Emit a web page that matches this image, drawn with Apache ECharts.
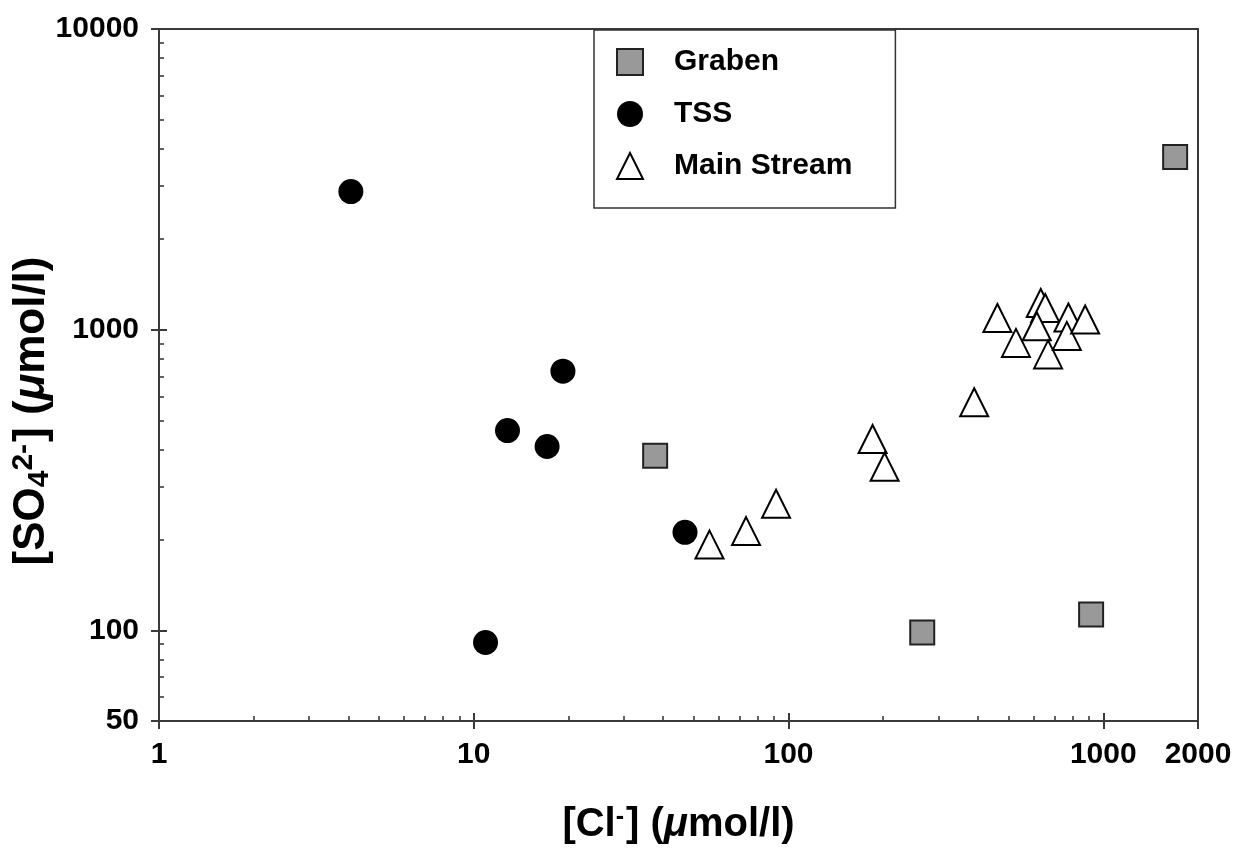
<!DOCTYPE html>
<html>
<head>
<meta charset="utf-8">
<script src="https://cdn.jsdelivr.net/npm/echarts@6/dist/echarts.min.js"></script>
<style>
  html, body { margin: 0; padding: 0; background: #ffffff; }
  #chart { width: 1247px; height: 851px; }
</style>
</head>
<body>
<div id="chart"></div>
<script>
// Chloride (x) and sulfate (y) concentrations, µmol/l
const grabenCl  = [37.7, 266, 915, 1692];
const grabenSO4 = [381, 98.5, 113, 3750];

const tssCl  = [4.07, 19.2, 12.8, 17.1, 46.9, 10.9];
const tssSO4 = [2880, 728, 462, 409, 212, 91.2];

const mainCl  = [56.1, 73.3, 91.3, 185, 202, 389, 461, 528, 633, 654, 615, 668, 775, 766, 876];
const mainSO4 = [193, 214, 264, 433, 350, 574, 1094, 904, 1227, 1181, 1027, 828, 1098, 954, 1081];

// Axis ticks and labels
const xMajor = [1, 10, 100, 1000, 2000];
const xMinor = [2, 3, 4, 5, 6, 7, 8, 9, 20, 30, 40, 50, 60, 70, 80, 90, 200, 300, 400, 500, 600, 700, 800, 900];
const yMajor = [50, 100, 1000, 10000];
const yMinor = [60, 70, 80, 90, 200, 300, 400, 500, 600, 700, 800, 900, 2000, 3000, 4000, 5000, 6000, 7000, 8000, 9000];

const FONT = '"Liberation Sans", Arial, Helvetica, sans-serif';
const AXIS_COLOR = '#3a3a3a';

const zip = (xs, ys) => xs.map((x, i) => [x, ys[i]]);
const fmt = v => String(Math.round(v));

const chart = echarts.init(document.getElementById('chart'), null, { renderer: 'canvas' });

const baseLog = (min, max) => ({
  type: 'log', logBase: 10, min: min, max: max,
  splitLine: { show: false }, minorTick: { show: false }
});

const option = {
  backgroundColor: '#ffffff',
  animation: false,
  grid: {
    left: 159, right: 49, top: 29, bottom: 130,
    show: true, borderColor: AXIS_COLOR, borderWidth: 2,
    containLabel: false, outerBoundsMode: 'none'
  },
  legend: {
    orient: 'vertical', left: 594, top: 30,
    padding: [17, 43, 27, 22],
    itemGap: 22, itemWidth: 26, itemHeight: 26,
    borderColor: '#333333', borderWidth: 1.5, backgroundColor: '#ffffff',
    textStyle: { fontFamily: FONT, fontSize: 30, fontWeight: 'bold', color: '#000', lineHeight: 26, padding: [0, 0, 0, 26] },
    data: ['Graben', 'TSS', 'Main Stream']
  },
  xAxis: [
    Object.assign(baseLog(1, 2000), {
      position: 'bottom',
      axisLine: { lineStyle: { color: AXIS_COLOR, width: 2 } },
      axisTick: { customValues: xMajor, inside: false, length: 8, lineStyle: { color: AXIS_COLOR, width: 2 } },
      axisLabel: { customValues: xMajor, formatter: fmt, fontFamily: FONT, fontSize: 30, fontWeight: 'bold', color: '#000', margin: 19 },
      name: '[Cl{sup|-}] ({mu|μ}mol/l)',
      nameLocation: 'middle', nameGap: 84, nameMoveOverlap: false,
      nameTextStyle: {
        fontFamily: FONT, fontSize: 40, fontWeight: 'bold', color: '#000',
        rich: {
          sup: { fontFamily: FONT, fontSize: 25, fontWeight: 'bold', color: '#000', verticalAlign: 'top', padding: [0, 2, 14, 0] },
          mu: { fontFamily: FONT, fontSize: 40, fontWeight: 'bold', fontStyle: 'italic', color: '#000' }
        }
      }
    }),
    Object.assign(baseLog(1, 2000), {
      position: 'bottom',
      axisLine: { show: false },
      axisTick: { customValues: [1, 10, 100, 1000], inside: true, length: 8, lineStyle: { color: AXIS_COLOR, width: 2 } },
      axisLabel: { show: false }
    }),
    Object.assign(baseLog(1, 2000), {
      position: 'bottom',
      axisLine: { show: false },
      axisTick: { customValues: xMinor, inside: true, length: 5, lineStyle: { color: AXIS_COLOR, width: 1.6 } },
      axisLabel: { show: false }
    })
  ],
  yAxis: [
    Object.assign(baseLog(50, 10000), {
      position: 'left',
      axisLine: { lineStyle: { color: AXIS_COLOR, width: 2 } },
      axisTick: { customValues: yMajor, inside: false, length: 8, lineStyle: { color: AXIS_COLOR, width: 2 } },
      axisLabel: { customValues: yMajor, formatter: fmt, fontFamily: FONT, fontSize: 30, fontWeight: 'bold', color: '#000', margin: 20 },
      name: '[SO{sub|4}{sup|2-}] ({mu|μ}mol/l)',
      nameLocation: 'middle', nameGap: 104, nameMoveOverlap: false,
      nameTextStyle: {
        fontFamily: FONT, fontSize: 44, fontWeight: 'bold', color: '#000',
        padding: [0, 72, 0, 0],
        rich: {
          sub: { fontFamily: FONT, fontSize: 30, fontWeight: 'bold', color: '#000', verticalAlign: 'bottom', padding: [12, 0, 0, 0] },
          sup: { fontFamily: FONT, fontSize: 30, fontWeight: 'bold', color: '#000', verticalAlign: 'top', padding: [0, 2, 16, 0] },
          mu: { fontFamily: FONT, fontSize: 44, fontWeight: 'bold', fontStyle: 'italic', color: '#000' }
        }
      }
    }),
    Object.assign(baseLog(50, 10000), {
      position: 'left',
      axisLine: { show: false },
      axisTick: { customValues: [100, 1000, 10000], inside: true, length: 8, lineStyle: { color: AXIS_COLOR, width: 2 } },
      axisLabel: { show: false }
    }),
    Object.assign(baseLog(50, 10000), {
      position: 'left',
      axisLine: { show: false },
      axisTick: { customValues: yMinor, inside: true, length: 5, lineStyle: { color: AXIS_COLOR, width: 1.6 } },
      axisLabel: { show: false }
    })
  ],
  series: [
    {
      name: 'Graben', type: 'scatter', xAxisIndex: 0, yAxisIndex: 0,
      symbol: 'rect', symbolSize: 24,
      itemStyle: { color: '#999999', borderColor: '#222222', borderWidth: 2, opacity: 1 },
      data: zip(grabenCl, grabenSO4)
    },
    {
      name: 'TSS', type: 'scatter', xAxisIndex: 0, yAxisIndex: 0,
      symbol: 'circle', symbolSize: 25,
      itemStyle: { color: '#000000', opacity: 1 },
      data: zip(tssCl, tssSO4)
    },
    {
      name: 'Main Stream', type: 'scatter', xAxisIndex: 0, yAxisIndex: 0,
      symbol: 'triangle', symbolSize: 28,
      itemStyle: { color: '#ffffff', borderColor: '#000000', borderWidth: 2, opacity: 1 },
      data: zip(mainCl, mainSO4)
    }
  ]
};

chart.setOption(option);
</script>
</body>
</html>
